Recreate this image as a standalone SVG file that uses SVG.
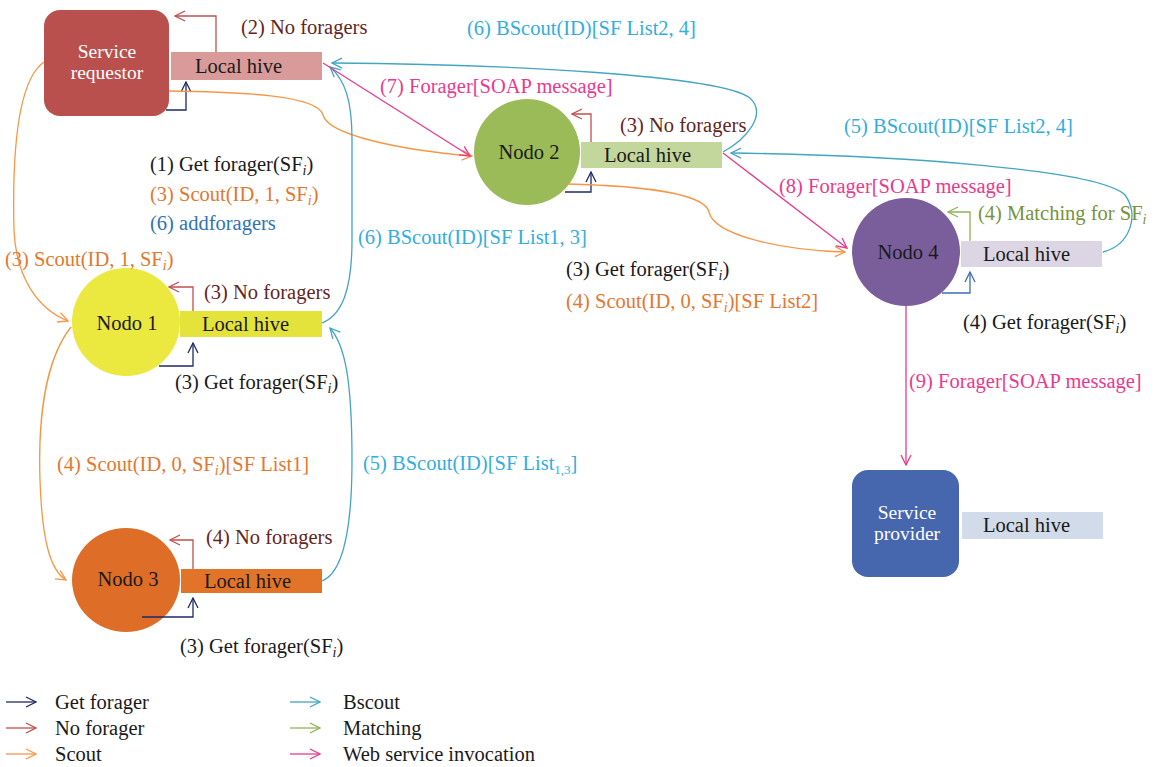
<svg xmlns="http://www.w3.org/2000/svg" width="1156" height="767" viewBox="0 0 1156 767">
<style>
text{font-family:"Liberation Serif","Times New Roman",serif;font-size:20.5px;fill:#1a1a1a}
.lg{font-size:20.5px}
.nm{font-size:19.5px}
.w{fill:#ffffff}
.nf{fill:#632523}
.sc{fill:#e3772f}
.bs{fill:#33ade0}
.ws{fill:#ea3a8e}
.mt{fill:#77933c}
.af{fill:#2e74b5}
.sub{font-style:italic;font-size:14px}
.sub2{font-size:13px}
.c{fill:none;stroke-width:1.3}
.gf{stroke:#1f2a68}
.gf2{stroke:#3f6db3}
.rd{stroke:#c0504d}
.or{stroke:#f79646}
.tl{stroke:#43a5c3}
.gr{stroke:#8db356}
.pk{stroke:#e83a8c}
.mid{text-anchor:middle}
</style>
<defs>
<marker id="aGf" viewBox="0 0 12 12" refX="11" refY="6" markerWidth="12" markerHeight="12" markerUnits="userSpaceOnUse" orient="auto"><path d="M1,1 L11,6 L1,11" fill="none" stroke="#1f2a68" stroke-width="1.3"/></marker>
<marker id="aGf2" viewBox="0 0 12 12" refX="11" refY="6" markerWidth="12" markerHeight="12" markerUnits="userSpaceOnUse" orient="auto"><path d="M1,1 L11,6 L1,11" fill="none" stroke="#3f6db3" stroke-width="1.3"/></marker>
<marker id="aRd" viewBox="0 0 12 12" refX="11" refY="6" markerWidth="12" markerHeight="12" markerUnits="userSpaceOnUse" orient="auto"><path d="M1,1 L11,6 L1,11" fill="none" stroke="#c0504d" stroke-width="1.3"/></marker>
<marker id="aOr" viewBox="0 0 12 12" refX="11" refY="6" markerWidth="12" markerHeight="12" markerUnits="userSpaceOnUse" orient="auto"><path d="M1,1 L11,6 L1,11" fill="none" stroke="#f79646" stroke-width="1.3"/></marker>
<marker id="aTl" viewBox="0 0 12 12" refX="11" refY="6" markerWidth="12" markerHeight="12" markerUnits="userSpaceOnUse" orient="auto"><path d="M1,1 L11,6 L1,11" fill="none" stroke="#43a5c3" stroke-width="1.3"/></marker>
<marker id="aGr" viewBox="0 0 12 12" refX="11" refY="6" markerWidth="12" markerHeight="12" markerUnits="userSpaceOnUse" orient="auto"><path d="M1,1 L11,6 L1,11" fill="none" stroke="#8db356" stroke-width="1.3"/></marker>
<marker id="aPk" viewBox="0 0 12 12" refX="11" refY="6" markerWidth="12" markerHeight="12" markerUnits="userSpaceOnUse" orient="auto"><path d="M1,1 L11,6 L1,11" fill="none" stroke="#e83a8c" stroke-width="1.3"/></marker>
</defs>

<g id="service-requestor">
<rect x="44" y="10" width="125" height="106" rx="16" fill="#b9504e"/>
<text class="w mid nm" x="107" y="58">Service</text>
<text class="w mid nm" x="107" y="79">requestor</text>
<rect x="171" y="52" width="151" height="28" fill="#d99b99"/>
<text x="195" y="73">Local hive</text>
</g>

<g id="nodo2">
<circle cx="527" cy="152" r="53" fill="#9bbb59"/>
<text class="mid" x="529" y="159">Nodo 2</text>
<rect x="581" y="142" width="141" height="26" fill="#c3d69b"/>
<text x="604" y="162">Local hive</text>
</g>

<g id="nodo4">
<circle cx="906" cy="252" r="54" fill="#7a5e9c"/>
<text class="mid" x="908" y="259">Nodo 4</text>
<rect x="961" y="241" width="141" height="26" fill="#dcd6e4"/>
<text x="983" y="261">Local hive</text>
</g>

<g id="nodo1">
<circle cx="126" cy="322" r="54" fill="#ebe83f"/>
<text class="mid" x="127" y="330">Nodo 1</text>
<rect x="180" y="311" width="142" height="26" fill="#e3e33b"/>
<text x="202" y="331">Local hive</text>
</g>

<g id="nodo3">
<ellipse cx="126" cy="580" rx="54" ry="52" fill="#dd6d27"/>
<text class="mid" x="128" y="586">Nodo 3</text>
<rect x="181" y="569" width="141" height="24" fill="#e2742a"/>
<text x="204" y="588">Local hive</text>
</g>

<g id="service-provider">
<rect x="852" y="470" width="107" height="107" rx="16" fill="#4666ae"/>
<text class="w mid nm" x="907" y="519">Service</text>
<text class="w mid nm" x="907" y="540">provider</text>
<rect x="962" y="512" width="141" height="27" fill="#d1dbe9"/>
<text x="983" y="532">Local hive</text>
</g>

<g id="connectors">
<path class="c rd" d="M216,52 V16 H175" marker-end="url(#aRd)"/>
<path class="c gf" d="M166,110 H186 V82" marker-end="url(#aGf)"/>
<path class="c rd" d="M591,142 V114 H572" marker-end="url(#aRd)"/>
<path class="c gf" d="M565,192 H591 V172" marker-end="url(#aGf)"/>
<path class="c gr" d="M970,241 V212 H948" marker-end="url(#aGr)"/>
<path class="c gf2" d="M942,293 H970 V272" marker-end="url(#aGf2)"/>
<path class="c rd" d="M193,311 V287 H169" marker-end="url(#aRd)"/>
<path class="c gf" d="M159,366 H193 V343" marker-end="url(#aGf)"/>
<path class="c rd" d="M193,569 V540 H170" marker-end="url(#aRd)"/>
<path class="c gf" d="M142,617 H193 V598" marker-end="url(#aGf)"/>

<path class="c or" d="M44,62 C18,80 12,150 14,230 C16,280 40,310 68,321" marker-end="url(#aOr)"/>
<path class="c or" d="M169,91 C240,92 318,95 323,115 C328,135 400,150 472,156" marker-end="url(#aOr)"/>
<path class="c or" d="M567,184 C650,186 705,195 709,212 C714,235 780,250 845,252" marker-end="url(#aOr)"/>
<path class="c or" d="M71,327 C45,360 38,420 40,480 C42,540 50,570 66,580" marker-end="url(#aOr)"/>

<path class="c tl" d="M322,323 C342,315 352,290 352,240 L352,140 C352,100 345,80 330,67" marker-end="url(#aTl)"/>
<path class="c tl" d="M723,152 C745,140 768,115 750,98 C720,75 500,64 332,63" marker-end="url(#aTl)"/>
<path class="c tl" d="M1103,252 C1130,245 1140,215 1125,195 C1100,170 900,155 731,153" marker-end="url(#aTl)"/>
<path class="c tl" d="M322,581 C345,572 352,520 352,460 C352,380 345,345 330,328" marker-end="url(#aTl)"/>

<path class="c pk" d="M323,63 L470,156" marker-end="url(#aPk)"/>
<path class="c pk" d="M723,153 L847,248" marker-end="url(#aPk)"/>
<path class="c pk" d="M906,306 V465" stroke-width="1.6" marker-end="url(#aPk)"/>
</g>

<g id="labels">
<text class="nf" x="241" y="34">(2) No foragers</text>
<text class="bs" x="467" y="35">(6) BScout(ID)[SF List2, 4]</text>
<text class="ws" x="380" y="93">(7) Forager[SOAP message]</text>
<text class="nf" x="620" y="132">(3) No foragers</text>
<text class="bs" x="844" y="133">(5) BScout(ID)[SF List2, 4]</text>
<text x="150" y="171">(1) Get forager(SF<tspan class="sub" dy="4">i</tspan><tspan dy="-4">)</tspan></text>
<text class="sc" x="150" y="201">(3) Scout(ID, 1, SF<tspan class="sub" dy="4">i</tspan><tspan dy="-4">)</tspan></text>
<text class="af" x="150" y="230">(6) addforagers</text>
<text class="ws" x="779" y="193">(8) Forager[SOAP message]</text>
<text class="mt" x="978" y="220">(4) Matching for SF<tspan class="sub" dy="4">i</tspan></text>
<text class="bs" x="358" y="244">(6) BScout(ID)[SF List1, 3]</text>
<text class="sc" x="5" y="266">(3) Scout(ID, 1, SF<tspan class="sub" dy="4">i</tspan><tspan dy="-4">)</tspan></text>
<text x="566" y="276">(3) Get forager(SF<tspan class="sub" dy="4">i</tspan><tspan dy="-4">)</tspan></text>
<text class="nf" x="204" y="299">(3) No foragers</text>
<text class="sc" x="566" y="308">(4) Scout(ID, 0, SF<tspan class="sub" dy="4">i</tspan><tspan dy="-4">)[SF List2]</tspan></text>
<text x="963" y="329">(4) Get forager(SF<tspan class="sub" dy="4">i</tspan><tspan dy="-4">)</tspan></text>
<text x="175" y="389">(3) Get forager(SF<tspan class="sub" dy="4">i</tspan><tspan dy="-4">)</tspan></text>
<text class="ws" x="909" y="388">(9) Forager[SOAP message]</text>
<text class="sc" x="57" y="471">(4) Scout(ID, 0, SF<tspan class="sub" dy="4">i</tspan><tspan dy="-4">)[SF List1]</tspan></text>
<text class="bs" x="363" y="470">(5) BScout(ID)[SF List<tspan class="sub2" dy="4">1,3</tspan><tspan dy="-4">]</tspan></text>
<text class="nf" x="206" y="544">(4) No foragers</text>
<text x="180" y="653">(3) Get forager(SF<tspan class="sub" dy="4">i</tspan><tspan dy="-4">)</tspan></text>
</g>

<g id="legend">
<path class="c gf" d="M6,702 H36" marker-end="url(#aGf)"/>
<path class="c rd" d="M6,728 H36" marker-end="url(#aRd)"/>
<path class="c or" d="M6,754 H36" marker-end="url(#aOr)"/>
<path class="c tl" d="M290,702 H320" marker-end="url(#aTl)"/>
<path class="c gr" d="M290,728 H320" marker-end="url(#aGr)"/>
<path class="c pk" d="M290,754 H320" marker-end="url(#aPk)"/>
<text class="lg" x="55" y="709">Get forager</text>
<text class="lg" x="55" y="735">No forager</text>
<text class="lg" x="55" y="761">Scout</text>
<text class="lg" x="343" y="709">Bscout</text>
<text class="lg" x="343" y="735">Matching</text>
<text class="lg" x="343" y="761">Web service invocation</text>
</g>
</svg>
